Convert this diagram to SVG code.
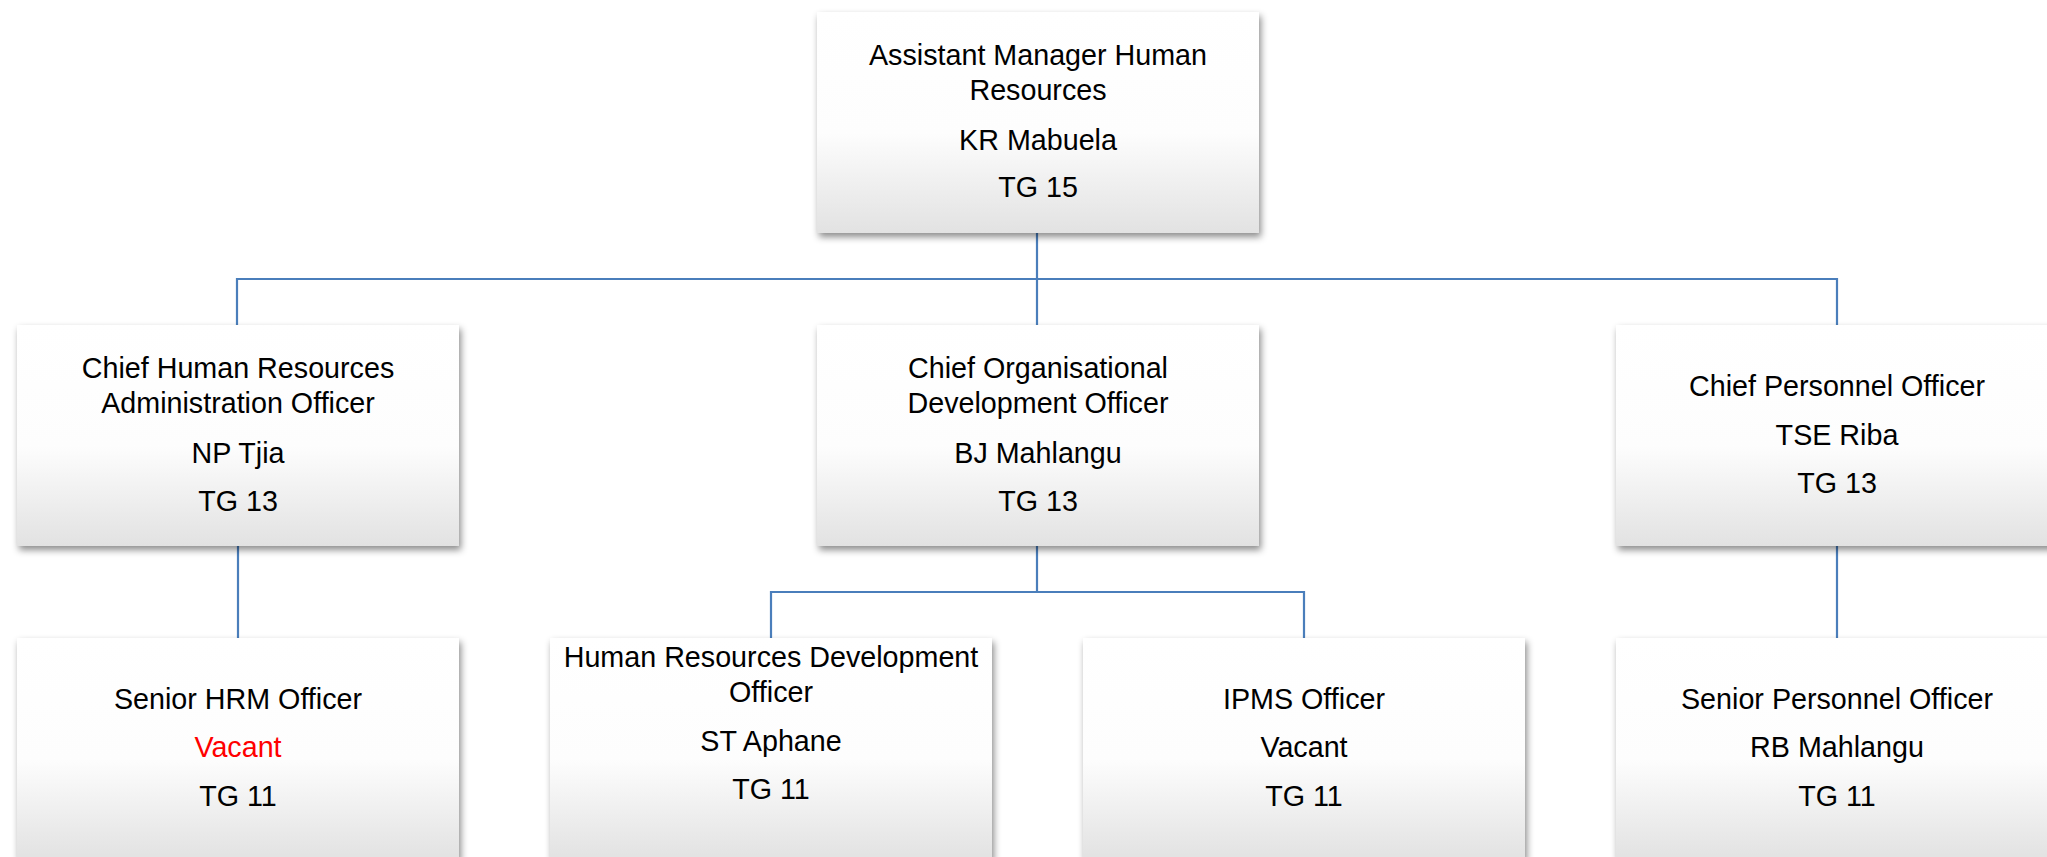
<svg xmlns="http://www.w3.org/2000/svg" width="2047" height="857" viewBox="0 0 2047 857">
  <defs>
    <linearGradient id="boxFill" x1="0" y1="0" x2="0" y2="1">
      <stop offset="0" stop-color="#ffffff"/>
      <stop offset="0.55" stop-color="#fdfdfd"/>
      <stop offset="1" stop-color="#e2e2e2"/>
    </linearGradient>
    <filter id="shadow" x="-10%" y="-10%" width="125%" height="130%">
      <feDropShadow dx="2" dy="4" stdDeviation="3.5" flood-color="#000000" flood-opacity="0.45"/>
    </filter>
  </defs>
  <style>
    .box { fill: url(#boxFill); filter: url(#shadow); }
    .conn { stroke: #4a7ebb; stroke-width: 2.2; fill: none; }
    text { font-family: "Liberation Sans", Arial, sans-serif; font-size: 28.7px; fill: #000000; text-anchor: middle; }
    .red { fill: #ff0000; }
  </style>
  <rect width="2047" height="857" fill="#ffffff"/>

  <g id="connectors">
    <path class="conn" d="M1037,233 V279"/>
    <path class="conn" d="M237,325 V279 H1837 V325"/>
    <path class="conn" d="M1037,279 V325"/>
    <path class="conn" d="M238,546 V638"/>
    <path class="conn" d="M1037,546 V592"/>
    <path class="conn" d="M771,638 V592 H1304 V638"/>
    <path class="conn" d="M1837,546 V638"/>
  </g>

  <g id="node-assistant-manager">
    <rect class="box" x="817" y="12" width="442" height="221"/>
    <text x="1038" y="65">Assistant Manager Human</text>
    <text x="1038" y="100">Resources</text>
    <text x="1038" y="150">KR Mabuela</text>
    <text x="1038" y="197">TG 15</text>
  </g>

  <g id="node-chief-hr-admin">
    <rect class="box" x="17" y="325" width="442" height="221"/>
    <text x="238" y="378">Chief Human Resources</text>
    <text x="238" y="413">Administration Officer</text>
    <text x="238" y="463">NP Tjia</text>
    <text x="238" y="511">TG 13</text>
  </g>

  <g id="node-chief-od">
    <rect class="box" x="817" y="325" width="442" height="221"/>
    <text x="1038" y="378">Chief Organisational</text>
    <text x="1038" y="413">Development Officer</text>
    <text x="1038" y="463">BJ Mahlangu</text>
    <text x="1038" y="511">TG 13</text>
  </g>

  <g id="node-chief-personnel">
    <rect class="box" x="1616" y="325" width="442" height="221"/>
    <text x="1837" y="396">Chief Personnel Officer</text>
    <text x="1837" y="445">TSE Riba</text>
    <text x="1837" y="493">TG 13</text>
  </g>

  <g id="node-senior-hrm">
    <rect class="box" x="17" y="638" width="442" height="221"/>
    <text x="238" y="709">Senior HRM Officer</text>
    <text class="red" x="238" y="757">Vacant</text>
    <text x="238" y="806">TG 11</text>
  </g>

  <g id="node-hrd-officer">
    <rect class="box" x="550" y="638" width="442" height="221"/>
    <text x="771" y="667">Human Resources Development</text>
    <text x="771" y="702">Officer</text>
    <text x="771" y="751">ST Aphane</text>
    <text x="771" y="799">TG 11</text>
  </g>

  <g id="node-ipms-officer">
    <rect class="box" x="1083" y="638" width="442" height="221"/>
    <text x="1304" y="709">IPMS Officer</text>
    <text x="1304" y="757">Vacant</text>
    <text x="1304" y="806">TG 11</text>
  </g>

  <g id="node-senior-personnel">
    <rect class="box" x="1616" y="638" width="442" height="221"/>
    <text x="1837" y="709">Senior Personnel Officer</text>
    <text x="1837" y="757">RB Mahlangu</text>
    <text x="1837" y="806">TG 11</text>
  </g>
</svg>
